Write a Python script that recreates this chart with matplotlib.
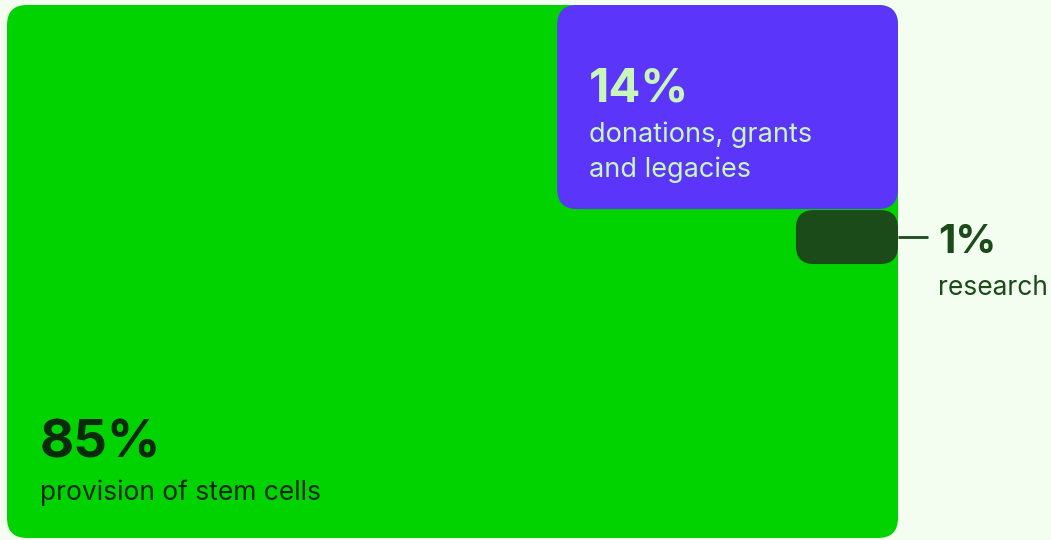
import numpy as np
import matplotlib.pyplot as plt
from matplotlib.patches import FancyBboxPatch

# shares of spending
labels = ["provision of stem cells", "donations, grants\nand legacies", "research"]
shares = [85, 14, 1]
pct_text = ["85%", "14%", "1%"]

# colours
bg = "#f3fdf0"
box_colors = ["#00d300", "#5b35f9", "#1a4b19"]
pct_colors = ["#0b2a0b", "#c9f7b9", "#1a4b19"]
lab_colors = ["#0b2a0b", "#c9f7b9", "#1a4b19"]

plt.rcParams['font.family'] = ['Inter', 'DejaVu Sans']

fig = plt.figure(figsize=(10.51, 5.40), dpi=100, facecolor=bg)
ax = fig.add_axes([0, 0, 1, 1])
ax.set_facecolor(bg)
ax.set_xlim(0, 1051)
ax.set_ylim(540, 0)
ax.axis('off')

# main box holds the whole total, small ones laid over its top-right corner
x0, y0, W, H = 7, 5, 891, 533
total_area = W * H
aspects = [None, 1.67, 1.89]  # width / height of overlaid boxes

def rbox(x, y, w, h, color, r=20):
    p = FancyBboxPatch((x, y), w, h, boxstyle=f"round,pad=0,rounding_size={r}",
                       fc=color, ec='none', mutation_aspect=1)
    ax.add_patch(p)

rbox(x0, y0, W, H, box_colors[0])

# 14% box
a1 = shares[1] / 100 * total_area * 1.046
h1 = np.sqrt(a1 / aspects[1])
w1 = a1 / h1
bx1 = x0 + W - w1
rbox(bx1, y0, w1, h1, box_colors[1])

# 1% box
a2 = shares[2] / 100 * total_area * 1.16
h2 = np.sqrt(a2 / aspects[2])
w2 = a2 / h2
bx2 = x0 + W - w2
by2 = y0 + h1 + 1
rbox(bx2, by2, w2, h2, box_colors[2], r=18)

# texts
ax.text(x0 + 33, y0 + H - 80, pct_text[0], fontsize=38, fontweight='bold',
        color=pct_colors[0], va='baseline', ha='left')
ax.text(x0 + 33, y0 + H - 38, labels[0], fontsize=19,
        color=lab_colors[0], va='baseline', ha='left')

ax.text(bx1 + 32, y0 + 97, pct_text[1], fontsize=34, fontweight='bold',
        color=pct_colors[1], va='baseline', ha='left')
ax.text(bx1 + 32, y0 + 137, labels[1].split("\n")[0], fontsize=19.5,
        color=lab_colors[1], va='baseline', ha='left')
ax.text(bx1 + 32, y0 + 172, labels[1].split("\n")[1], fontsize=19.5,
        color=lab_colors[1], va='baseline', ha='left')

# leader line and 1% labels
ly = by2 + h2 / 2
ax.plot([x0 + W, x0 + W + 30], [ly, ly], color=box_colors[2], lw=2,
        solid_capstyle='butt')
ax.text(x0 + W + 40, by2 + 43, pct_text[2], fontsize=29, fontweight='bold',
        color=pct_colors[2], va='baseline', ha='left')
ax.text(x0 + W + 40, by2 + 85, labels[2], fontsize=19,
        color=lab_colors[2], va='baseline', ha='left')

fig.savefig("out.png", dpi=100, facecolor=bg)
